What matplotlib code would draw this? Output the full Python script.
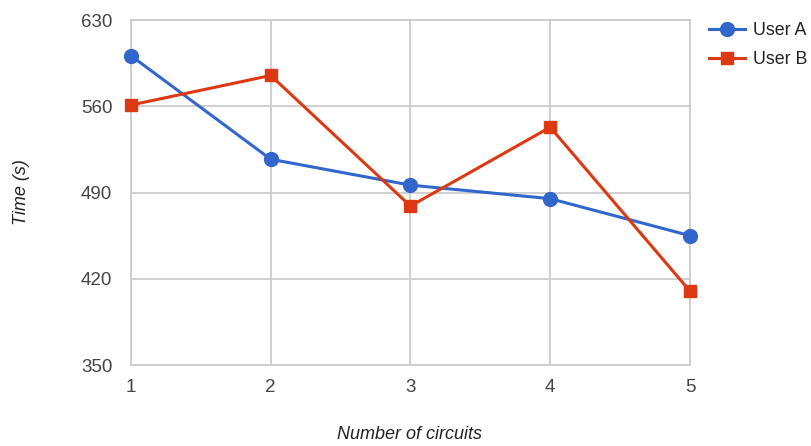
import matplotlib.pyplot as plt

circuits = [1, 2, 3, 4, 5]
user_a = [601, 517, 496, 485, 455]
user_b = [561, 585, 479, 543, 410]
yticks = [350, 420, 490, 560, 630]

plt.rcParams['font.family'] = ['Liberation Sans', 'DejaVu Sans']

fig = plt.figure(figsize=(8.12, 4.46), dpi=100)
ax = fig.add_axes([0.1613, 0.1816, 0.6884, 0.7735])

ax.plot(circuits, user_a, color='#3366CC', lw=2.2, marker='o', ms=10,
        label='User A', clip_on=False, zorder=3)
ax.plot(circuits, user_b, color='#DC3912', lw=2.2, marker='s', ms=9,
        label='User B', clip_on=False, zorder=4)

ax.set_xlim(1, 5)
ax.set_ylim(350, 630)
ax.set_xticks(circuits)
ax.set_yticks(yticks)
ax.grid(True, color='#cccccc', lw=1.3)
ax.set_axisbelow(True)
for s in ax.spines.values():
    s.set_color('#cccccc')
    s.set_linewidth(1.3)
ax.tick_params(length=0, labelsize=13.5, colors='#444444')
ax.tick_params(axis='y', pad=13.5)
ax.tick_params(axis='x', pad=10)

ax.set_xlabel('Number of circuits', fontsize=13, style='italic', color='#222222')
ax.set_ylabel('Time (s)', fontsize=13, style='italic', color='#222222')
ax.xaxis.set_label_coords(0.499, -0.2, transform=ax.transAxes)
ax.yaxis.set_label_coords(-0.195, 0.501, transform=ax.transAxes)
ax.xaxis.label.set_va('center')
ax.yaxis.label.set_va('center')

ax.legend(loc='upper left', bbox_to_anchor=(1.006, 1.04), frameon=False,
          fontsize=12.8, labelcolor='#222222', handlelength=2.0, handletextpad=0.45,
          labelspacing=0.65)

fig.savefig('out.png', dpi=100)
